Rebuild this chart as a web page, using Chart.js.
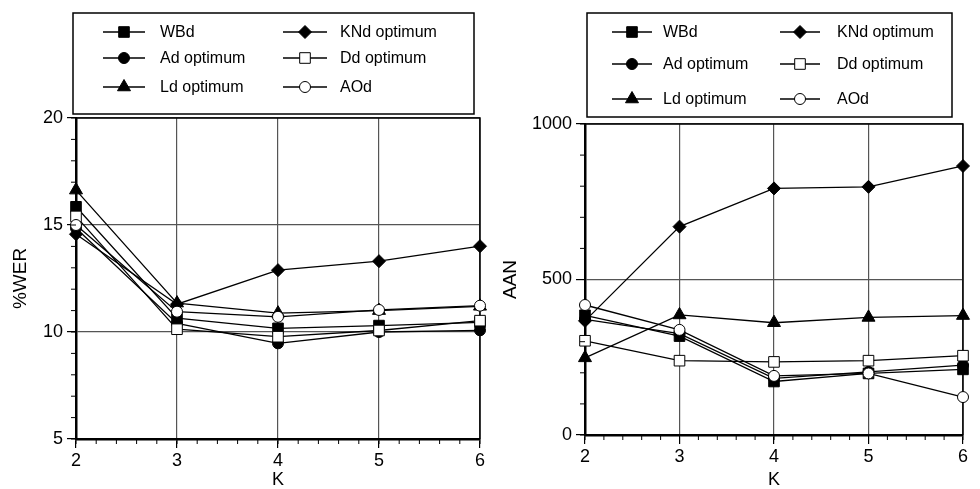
<!DOCTYPE html>
<html>
<head>
<meta charset="utf-8">
<script src="https://cdn.jsdelivr.net/npm/chart.js@4.4.0/dist/chart.umd.min.js"></script>
<style>
    html, body { margin: 0; padding: 0; background: #fff; }
    #wrap { position: relative; width: 980px; height: 489px; overflow: hidden; }
    .panel { position: absolute; top: 0; width: 490px; height: 489px; }
</style>
</head>
<body>
<div id="wrap">
    <div class="panel" style="left:0"><canvas id="werChart" width="490" height="489"></canvas></div>
    <div class="panel" style="left:490px"><canvas id="aanChart" width="490" height="489"></canvas></div>
</div>
<script>
// Data
const kValues = [2, 3, 4, 5, 6];
const seriesNames = ['WBd', 'Ad optimum', 'Ld optimum', 'KNd optimum', 'Dd optimum', 'AOd'];

// %WER (left panel)
const werWBd = [15.85, 10.65, 10.17, 10.3, 10.45];
const werAd  = [14.85, 10.4, 9.47, 10.0, 10.08];
const werLd  = [16.63, 11.35, 10.88, 11.0, 11.2];
const werKNd = [14.57, 11.3, 12.89, 13.31, 14.01];
const werDd  = [15.4, 10.13, 9.78, 10.07, 10.53];
const werAOd = [15.0, 10.95, 10.71, 11.03, 11.23];
const werTicks = [5, 10, 15, 20];

// AAN (right panel)
const aanWBd = [385, 318, 172, 198, 211];
const aanAd  = [372, 326, 182, 203, 225];
const aanLd  = [248, 386, 361, 378, 384];
const aanKNd = [367, 670, 793, 798, 865];
const aanDd  = [303, 239, 235, 239, 255];
const aanAOd = [418, 338, 190, 198, 122];
const aanTicks = [0, 500, 1000];

const FONT = '"Liberation Sans", Arial, Helvetica, sans-serif';

// marker look per series (same order as seriesNames)
const markerStyles = [
    { style: 'rect', fill: '#000', radius: 7.5, z: 3 },
    { style: 'circle', fill: '#000', radius: 5.5, z: 5 },
    { style: 'triangle', fill: '#000', radius: 7.5, z: 2 },
    { style: 'rectRot', fill: '#000', radius: 6.5, z: 4 },
    { style: 'rect', fill: '#fff', radius: 7.5, z: 1 },
    { style: 'circle', fill: '#fff', radius: 5.5, z: 0 }
];

function drawMarker(ctx, style, r, x, y) {
    ctx.beginPath();
    if (style === 'circle') {
        ctx.arc(x, y, r, 0, Math.PI * 2);
    } else if (style === 'rect') {
        const s = r * Math.SQRT1_2;
        ctx.rect(x - s, y - s, 2 * s, 2 * s);
    } else if (style === 'rectRot') {
        ctx.moveTo(x, y - r); ctx.lineTo(x + r, y); ctx.lineTo(x, y + r); ctx.lineTo(x - r, y);
        ctx.closePath();
    } else if (style === 'triangle') {
        ctx.moveTo(x, y - r);
        ctx.lineTo(x + r * 0.866, y + r * 0.5);
        ctx.lineTo(x - r * 0.866, y + r * 0.5);
        ctx.closePath();
    }
    ctx.fill();
    ctx.stroke();
}

// boxed two-column legend drawn inside the canvas
const boxLegend = {
    id: 'boxLegend',
    afterDraw(chart, args, opts) {
        const ctx = chart.ctx;
        const b = opts.box;
        ctx.save();
        ctx.strokeStyle = '#000';
        ctx.lineWidth = 1.5;
        ctx.strokeRect(b[0], b[1], b[2] - b[0], b[3] - b[1]);
        ctx.font = '16px ' + FONT;
        ctx.textBaseline = 'middle';
        chart.data.datasets.forEach((ds, i) => {
            const col = opts.cols[Math.floor(i / 3)];
            const y = opts.rows[i % 3];
            const m = markerStyles[i];
            ctx.strokeStyle = '#000';
            ctx.lineWidth = 1.3;
            ctx.beginPath();
            ctx.moveTo(col[0], y);
            ctx.lineTo(col[1], y);
            ctx.stroke();
            ctx.fillStyle = m.fill;
            ctx.lineWidth = 1;
            drawMarker(ctx, m.style, m.radius, (col[0] + col[1]) / 2, y);
            ctx.fillStyle = '#000';
            ctx.fillText(ds.label, col[2], y + 1);
        });
        ctx.restore();
    }
};

// minor ticks on both axes
const minorTicks = {
    id: 'minorTicks',
    afterDraw(chart, args, opts) {
        const { ctx, chartArea } = chart;
        const xs = chart.scales.x, ys = chart.scales.y;
        ctx.save();
        ctx.strokeStyle = '#000';
        ctx.lineWidth = 1;
        ctx.beginPath();
        const nx = Math.round((xs.max - xs.min) / opts.xStep);
        for (let n = 0; n <= nx; n++) {
            const px = xs.getPixelForValue(xs.min + n * opts.xStep);
            ctx.moveTo(px, chartArea.bottom);
            ctx.lineTo(px, chartArea.bottom + 5);
        }
        const ny = Math.round((ys.max - ys.min) / opts.yStep);
        for (let n = 0; n <= ny; n++) {
            const py = ys.getPixelForValue(ys.min + n * opts.yStep);
            ctx.moveTo(chartArea.left, py);
            ctx.lineTo(chartArea.left - 5, py);
        }
        ctx.stroke();
        ctx.restore();
    }
};

// top and right frame lines
const plotFrame = {
    id: 'plotFrame',
    beforeDatasetsDraw(chart) {
        const { ctx, chartArea } = chart;
        ctx.save();
        ctx.strokeStyle = '#000';
        ctx.lineWidth = 1.5;
        ctx.beginPath();
        ctx.moveTo(chartArea.left, chartArea.top);
        ctx.lineTo(chartArea.right, chartArea.top);
        ctx.lineTo(chartArea.right, chartArea.bottom);
        ctx.stroke();
        ctx.restore();
    }
};

function buildDatasets(seriesList) {
    return seriesList.map((vals, i) => {
        const m = markerStyles[i];
        return {
            label: seriesNames[i],
            data: kValues.map((k, j) => ({ x: k, y: vals[j] })),
            borderColor: '#000',
            borderWidth: 1.3,
            pointStyle: m.style,
            pointRadius: m.radius,
            pointBackgroundColor: m.fill,
            pointBorderColor: '#000',
            pointBorderWidth: 1,
            order: m.z,
            tension: 0,
            clip: false
        };
    });
}

function makeChart(id, seriesList, cfg) {
    return new Chart(document.getElementById(id), {
        type: 'line',
        data: { datasets: buildDatasets(seriesList) },
        plugins: [plotFrame, minorTicks, boxLegend],
        options: {
            responsive: false,
            animation: false,
            layout: { padding: { left: 0, right: cfg.padRight, top: cfg.padTop, bottom: 0 } },
            plugins: {
                legend: { display: false },
                tooltip: { enabled: false },
                boxLegend: cfg.legend,
                minorTicks: { xStep: 0.2, yStep: cfg.yMinor }
            },
            scales: {
                x: {
                    type: 'linear',
                    min: 2,
                    max: 6,
                    afterBuildTicks: s => { s.ticks = kValues.map(v => ({ value: v })); },
                    ticks: { color: '#000', font: { family: FONT, size: 18 }, padding: 2, callback: v => String(v) },
                    grid: { color: '#555', lineWidth: 1.2, tickLength: 9, tickColor: '#000' },
                    border: { color: '#000', width: 2.5 },
                    title: { display: true, text: 'K', color: '#000', font: { family: FONT, size: 18, lineHeight: 1 }, padding: 0 },
                    afterFit: s => { s.height = cfg.xHeight; }
                },
                y: {
                    min: cfg.yTicks[0],
                    max: cfg.yTicks[cfg.yTicks.length - 1],
                    afterBuildTicks: s => { s.ticks = cfg.yTicks.map(v => ({ value: v })); },
                    ticks: { color: '#000', font: { family: FONT, size: 18 }, padding: 4, callback: v => String(v) },
                    grid: { color: '#555', lineWidth: 1.2, tickLength: 9, tickColor: '#000' },
                    border: { color: '#000', width: 2.5 },
                    title: { display: true, text: cfg.yTitle, color: '#000', font: { family: FONT, size: 19, lineHeight: 1 }, padding: { top: 11, bottom: 0 } },
                    afterFit: s => { s.width = cfg.yWidth; }
                }
            }
        }
    });
}

makeChart('werChart', [werWBd, werAd, werLd, werKNd, werDd, werAOd], {
    yTicks: werTicks, yMinor: 1, yTitle: '%WER',
    padRight: 10, padTop: 118, xHeight: 50, yWidth: 76,
    legend: {
        box: [73, 13, 474, 114],
        rows: [32, 58, 87],
        cols: [[103, 145, 160], [283, 327, 340]]
    }
});

makeChart('aanChart', [aanWBd, aanAd, aanLd, aanKNd, aanDd, aanAOd], {
    yTicks: aanTicks, yMinor: 100, yTitle: 'AAN',
    padRight: 17, padTop: 124, xHeight: 54, yWidth: 95,
    legend: {
        box: [97, 13, 462, 117],
        rows: [32, 64, 99],
        cols: [[122, 162, 173], [290, 330, 347]]
    }
});
</script>
</body>
</html>
